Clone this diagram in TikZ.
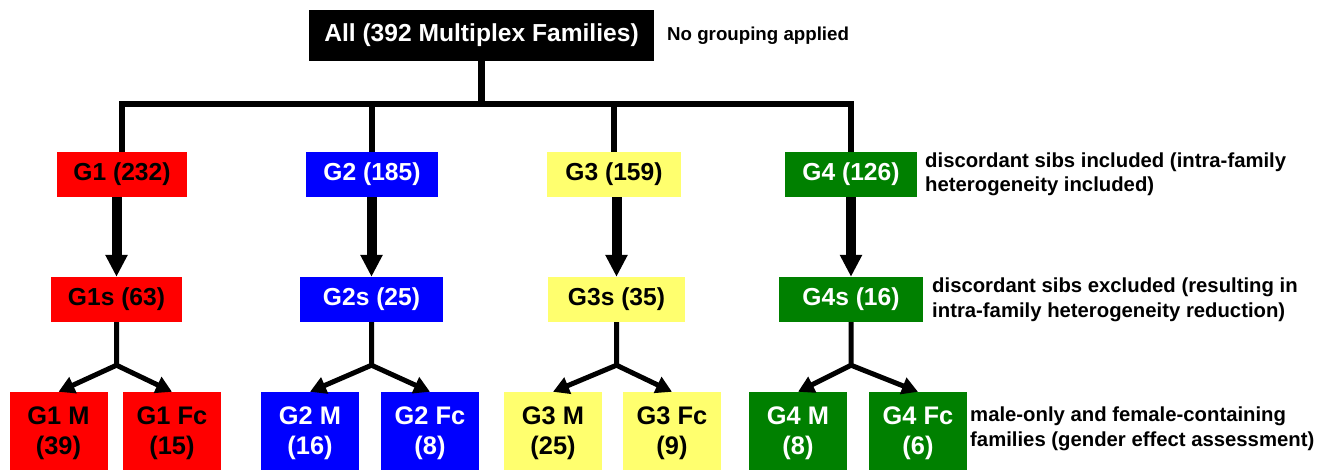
\documentclass[tikz,border=0pt]{standalone}
\usepackage{fontspec}
\setmainfont{Liberation Sans}
\usepackage{tikz}
\usetikzlibrary{arrows.meta}
\definecolor{gred}{RGB}{255,0,0}
\definecolor{gblue}{RGB}{0,0,255}
\definecolor{gyellow}{RGB}{255,255,110}
\definecolor{ggreen}{RGB}{0,128,0}

\begin{document}
\begin{tikzpicture}[x=1pt,y=-1pt,
  box/.style={inner sep=0pt,minimum height=45pt,font=\fontsize{24.6}{30}\selectfont\bfseries},
  subbox/.style={box,minimum width=98pt,minimum height=83pt,align=center,font=\fontsize{25.4}{30}\selectfont\bfseries},
  note/.style={anchor=west,align=left,inner sep=0pt,font=\fontsize{20.3}{24.5}\selectfont\bfseries},
  bus/.style={line width=6.5pt},
  bigarrow/.style={line width=10pt,-{Triangle[width=21pt,length=22pt]}},
  fork/.style={line width=5pt,-{Triangle[width=17pt,length=16pt]}}]
\useasboundingbox (0,0) rectangle (1332,469);
% top box
\node[box,fill=black,text=white,minimum width=345pt,minimum height=51pt] (all) at (481.5,35.5) {All (392 Multiplex Families)};
\node[note,font=\fontsize{18.7}{23}\selectfont\bfseries] (nogroup) at (667,36) {No grouping applied};
% first row of groups
\node[box,fill=gred,text=black,minimum width=130pt] (g1) at (122,174.5) {G1 (232)};
\node[box,fill=gblue,text=white,minimum width=132pt] (g2) at (372,174.5) {G2 (185)};
\node[box,fill=gyellow,text=black,minimum width=134pt] (g3) at (614,174.5) {G3 (159)};
\node[box,fill=ggreen,text=white,minimum width=132pt] (g4) at (851,174.5) {G4 (126)};
\node[note] (incl) at (925,174.5) {discordant sibs included (intra-family\\heterogeneity included)};
% second row, sibs excluded
\node[box,fill=gred,text=black,minimum width=131pt] (g1s) at (116.5,299.5) {G1s (63)};
\node[box,fill=gblue,text=white,minimum width=143pt] (g2s) at (371.5,299.5) {G2s (25)};
\node[box,fill=gyellow,text=black,minimum width=137pt] (g3s) at (616.5,299.5) {G3s (35)};
\node[box,fill=ggreen,text=white,minimum width=144pt] (g4s) at (851,299.5) {G4s (16)};
\node[note] (excl) at (932,300) {discordant sibs excluded (resulting in\\intra-family heterogeneity reduction)};
% third row, male / female
\node[subbox,fill=gred,text=black] (g1m) at (58.5,433.5) {G1 M\\(39)};
\node[subbox,fill=gred,text=black] (g1f) at (172,433.5) {G1 Fc\\(15)};
\node[subbox,fill=gblue,text=white] (g2m) at (310,433.5) {G2 M\\(16)};
\node[subbox,fill=gblue,text=white] (g2f) at (430,433.5) {G2 Fc\\(8)};
\node[subbox,fill=gyellow,text=black] (g3m) at (553,433.5) {G3 M\\(25)};
\node[subbox,fill=gyellow,text=black] (g3f) at (672,433.5) {G3 Fc\\(9)};
\node[subbox,fill=ggreen,text=white] (g4m) at (798,433.5) {G4 M\\(8)};
\node[subbox,fill=ggreen,text=white] (g4f) at (918,433.5) {G4 Fc\\(6)};
\node[note] (gender) at (970,429) {male-only and female-containing\\families (gender effect assessment)};
% bus lines
\coordinate (bus) at (481.5,104);
\draw[bus] (all.south) -- (bus);
\draw[bus] (g1.north) -- (g1.north |- bus) -- (g4.north |- bus) -- (g4.north);
\draw[bus] (g2.north) -- (g2.north |- bus);
\draw[bus] (g3.north) -- (g3.north |- bus);
% thick arrows
\draw[bigarrow] (g1s.north |- g1.south) -- (g1s.north);
\draw[bigarrow] (g2s.north |- g2.south) -- (g2s.north);
\draw[bigarrow] (g3s.north |- g3.south) -- (g3s.north);
\draw[bigarrow] (g4s.north |- g4.south) -- (g4s.north);
% forks
\draw[fork] (g1s.south) -- ++(0,43) coordinate (j1) -- (g1m.north);
\draw[fork] (j1) -- (g1f.north);
\draw[fork] (g2s.south) -- ++(0,43) coordinate (j2) -- (g2m.north);
\draw[fork] (j2) -- (g2f.north);
\draw[fork] (g3s.south) -- ++(0,43) coordinate (j3) -- (g3m.north);
\draw[fork] (j3) -- (g3f.north);
\draw[fork] (g4s.south) -- ++(0,43) coordinate (j4) -- (g4m.north);
\draw[fork] (j4) -- (g4f.north);
\end{tikzpicture}
\end{document}
